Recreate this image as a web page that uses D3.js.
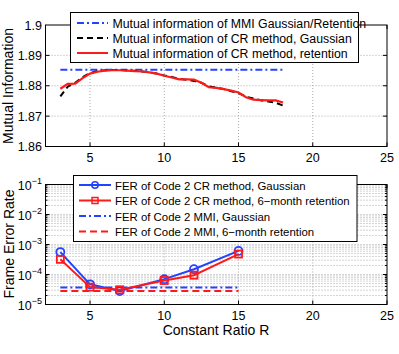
<!DOCTYPE html>
<meta charset="utf-8">
<style>
body { margin: 0; background: #fff; }
text { font-family: "Liberation Sans", Arial, sans-serif; }
</style>
<svg width="399" height="354"></svg>
<script src="https://d3js.org/d3.v7.min.js"></script>
<script>

// ---- data ----
var ratioFine = [3,3.5,4,4.5,5,5.5,6,6.5,7,7.5,8,8.5,9,9.5,10,10.5,11,11.5,12,12.5,13,13.5,14,14.5,15,15.5,16,16.5,17,17.5,18];
var miGaussian = [1.8765,1.8797,1.8810,1.8828,1.8842,1.8848,1.8851,1.8852,1.8852,1.8850,1.8849,1.8847,1.8844,1.8840,1.8834,1.8829,
                  1.8823,1.8820,1.8816,1.8810,1.8798,1.8794,1.8789,1.8782,1.8776,1.8764,1.8758,1.8752,1.8748,1.8744,1.8735];
var miRetention = [1.8790,1.8806,1.8807,1.8825,1.8840,1.8846,1.8850,1.8851,1.8851,1.8850,1.8848,1.8847,1.8844,1.8840,1.8833,1.8827,
                   1.8821,1.8821,1.8820,1.8810,1.8795,1.8793,1.8789,1.8784,1.8778,1.8762,1.8754,1.8753,1.8752,1.8752,1.8745];
var mmiRange = [3, 18];
var miMMI = [1.8853, 1.8853];

var ratioCoarse = [3, 5, 7, 10, 12, 15];
var ferGaussian = [5.6e-4, 4.7e-5, 2.8e-5, 7.0e-5, 1.5e-4, 6.1e-4];
var ferRetention = [3.2e-4, 3.8e-5, 3.1e-5, 6.3e-5, 9.5e-5, 4.8e-4];
var ferMMIRange = [3, 15];
var ferMMIGaussian = [3.7e-5, 3.7e-5];
var ferMMIRetention = [2.8e-5, 2.8e-5];

var xTicks = [5, 10, 15, 20, 25];
var miTicks = [1.86, 1.87, 1.88, 1.89, 1.9];
var ferExps = [-5, -4, -3, -2, -1];

var topLegend = ["Mutual information of MMI Gaussian/Retention",
                 "Mutual information of CR method, Gaussian",
                 "Mutual information of CR method, retention"];
var botLegend = ["FER of Code 2 CR method, Gaussian",
                 "FER of Code 2 CR method, 6\u2212month retention",
                 "FER of Code 2 MMI, Gaussian",
                 "FER of Code 2 MMI, 6\u2212month retention"];

var blue = "#2343ff", red = "#ff1a1a";
var svg = d3.select("svg");

var x = d3.scaleLinear().domain([2, 25]).range([45.5, 387]);
var yTop = d3.scaleLinear().domain([1.86, 1.9]).range([146.5, 25]);
var yBot = d3.scaleLog().domain([1e-5, 1e-1]).range([304.5, 184.5]);

function gridAndFrame(y, top, bottom, yGrid, minor) {
  var g = svg.append("g");
  // grid
  xTicks.slice(0, -1).forEach(function(t) {
    g.append("line").attr("x1", x(t)).attr("x2", x(t)).attr("y1", top).attr("y2", bottom)
      .attr("stroke", "#aaa").attr("stroke-dasharray", "1,2");
  });
  yGrid.forEach(function(t) {
    g.append("line").attr("x1", x.range()[0]).attr("x2", x.range()[1]).attr("y1", y(t)).attr("y2", y(t))
      .attr("stroke", "#aaa").attr("stroke-dasharray", "1,2");
  });
  // ticks inward on all sides
  xTicks.forEach(function(t) {
    g.append("line").attr("x1", x(t)).attr("x2", x(t)).attr("y1", bottom).attr("y2", bottom - 4).attr("stroke", "#000");
    g.append("line").attr("x1", x(t)).attr("x2", x(t)).attr("y1", top).attr("y2", top + 4).attr("stroke", "#000");
  });
  yGrid.forEach(function(t) {
    var len = (minor && minor.indexOf(t) >= 0) ? 2 : 4;
    g.append("line").attr("x1", x.range()[0]).attr("x2", x.range()[0] + len).attr("y1", y(t)).attr("y2", y(t)).attr("stroke", "#000");
    g.append("line").attr("x1", x.range()[1]).attr("x2", x.range()[1] - len).attr("y1", y(t)).attr("y2", y(t)).attr("stroke", "#000");
  });
  g.append("rect").attr("x", x.range()[0]).attr("y", top)
    .attr("width", x.range()[1] - x.range()[0]).attr("height", bottom - top)
    .attr("fill", "none").attr("stroke", "#000").attr("stroke-width", 1);
  // x tick labels
  g.selectAll(".xl").data(xTicks).enter().append("text")
    .attr("x", function(d) { return x(d); }).attr("y", bottom + 15.5)
    .attr("text-anchor", "middle").attr("font-size", 12.5).text(function(d) { return d; });
  return g;
}

// ---- top panel ----
gridAndFrame(yTop, 25, 146.5, miTicks.slice(1, -1));
var fmt = d3.format(".2~f");
svg.selectAll(".yt").data(miTicks).enter().append("text")
  .attr("x", 42).attr("y", function(d) { return yTop(d) + 4.5; })
  .attr("text-anchor", "end").attr("font-size", 12.5).text(function(d) { return fmt(d); });
svg.append("text").attr("transform", "translate(13,86) rotate(-90)")
  .attr("text-anchor", "middle").attr("font-size", 14).text("Mutual Information");

var lineTop = d3.line().x(function(d) { return x(d[0]); }).y(function(d) { return yTop(d[1]); });
svg.append("path").datum(d3.zip(mmiRange, miMMI)).attr("d", lineTop)
  .attr("fill", "none").attr("stroke", blue).attr("stroke-width", 2).attr("stroke-dasharray", "7,3,2,3");
svg.append("path").datum(d3.zip(ratioFine, miGaussian)).attr("d", lineTop)
  .attr("fill", "none").attr("stroke", "#000").attr("stroke-width", 2).attr("stroke-dasharray", "6,4");
svg.append("path").datum(d3.zip(ratioFine, miRetention)).attr("d", lineTop)
  .attr("fill", "none").attr("stroke", red).attr("stroke-width", 2.2);

// top legend
var lt = svg.append("g");
lt.append("rect").attr("x", 70.5).attr("y", 12.5).attr("width", 288).attr("height", 50)
  .attr("fill", "#fff").attr("stroke", "#000");
var topStyles = [{c: blue, d: "7,3,2,3"}, {c: "#000", d: "6,4"}, {c: red, d: null}];
topLegend.forEach(function(s, i) {
  var yy = 23 + i * 15;
  lt.append("line").attr("x1", 77).attr("x2", 108).attr("y1", yy).attr("y2", yy)
    .attr("stroke", topStyles[i].c).attr("stroke-width", 2).attr("stroke-dasharray", topStyles[i].d);
  lt.append("text").attr("x", 112.5).attr("y", yy + 4.5).attr("font-size", 12.3).text(s);
});

// ---- bottom panel ----
var minorVals = [], gridVals = [];
ferExps.forEach(function(e) {
  if (e < -1) for (var k = 1; k <= 9; k++) {
    var v = k * Math.pow(10, e);
    gridVals.push(v);
    if (k > 1) minorVals.push(v);
  }
});
gridAndFrame(yBot, 184.5, 304.5, gridVals, minorVals);
ferExps.forEach(function(e) {
  var t = svg.append("text").attr("x", 42).attr("y", yBot(Math.pow(10, e)) + 5.5)
    .attr("text-anchor", "end").attr("font-size", 12.5);
  t.append("tspan").text("10");
  t.append("tspan").attr("dy", -6).attr("font-size", 9).text("\u2212" + Math.abs(e));
});
svg.append("text").attr("transform", "translate(14,244) rotate(-90)")
  .attr("text-anchor", "middle").attr("font-size", 14).text("Frame Error Rate");
svg.append("text").attr("x", 216).attr("y", 335).attr("text-anchor", "middle")
  .attr("font-size", 14).text("Constant Ratio R");

var lineBot = d3.line().x(function(d) { return x(d[0]); }).y(function(d) { return yBot(d[1]); });
svg.append("path").datum(d3.zip(ferMMIRange, ferMMIGaussian)).attr("d", lineBot)
  .attr("fill", "none").attr("stroke", blue).attr("stroke-width", 2).attr("stroke-dasharray", "7,3,2,3");
svg.append("path").datum(d3.zip(ferMMIRange, ferMMIRetention)).attr("d", lineBot)
  .attr("fill", "none").attr("stroke", red).attr("stroke-width", 2).attr("stroke-dasharray", "7,4");

var gaussPts = d3.zip(ratioCoarse, ferGaussian), retPts = d3.zip(ratioCoarse, ferRetention);
svg.append("path").datum(gaussPts).attr("d", lineBot)
  .attr("fill", "none").attr("stroke", blue).attr("stroke-width", 2);
svg.selectAll(".circ").data(gaussPts).enter().append("circle")
  .attr("cx", function(d) { return x(d[0]); }).attr("cy", function(d) { return yBot(d[1]); })
  .attr("r", 4).attr("fill", "none").attr("stroke", blue).attr("stroke-width", 1.8);
svg.append("path").datum(retPts).attr("d", lineBot)
  .attr("fill", "none").attr("stroke", red).attr("stroke-width", 2);
svg.selectAll(".sq").data(retPts).enter().append("rect")
  .attr("x", function(d) { return x(d[0]) - 3.5; }).attr("y", function(d) { return yBot(d[1]) - 3.5; })
  .attr("width", 7).attr("height", 7).attr("fill", "none").attr("stroke", red).attr("stroke-width", 1.8);

// bottom legend
var lb = svg.append("g");
lb.append("rect").attr("x", 73.5).attr("y", 175.5).attr("width", 283.5).attr("height", 66)
  .attr("fill", "#fff").attr("stroke", "#000");
var botStyles = [{c: blue, d: null, m: "c"}, {c: red, d: null, m: "s"}, {c: blue, d: "7,3,2,3"}, {c: red, d: "7,4"}];
botLegend.forEach(function(s, i) {
  var yy = 185 + i * 15.5;
  lb.append("line").attr("x1", 79).attr("x2", 111).attr("y1", yy).attr("y2", yy)
    .attr("stroke", botStyles[i].c).attr("stroke-width", 2).attr("stroke-dasharray", botStyles[i].d);
  if (botStyles[i].m == "c")
    lb.append("circle").attr("cx", 95).attr("cy", yy).attr("r", 3.2).attr("fill", "none").attr("stroke", blue).attr("stroke-width", 1.5);
  if (botStyles[i].m == "s")
    lb.append("rect").attr("x", 92).attr("y", yy - 3).attr("width", 6).attr("height", 6).attr("fill", "none").attr("stroke", red).attr("stroke-width", 1.5);
  lb.append("text").attr("x", 115).attr("y", yy + 4.5).attr("font-size", 11.4).text(s);
});

</script>
